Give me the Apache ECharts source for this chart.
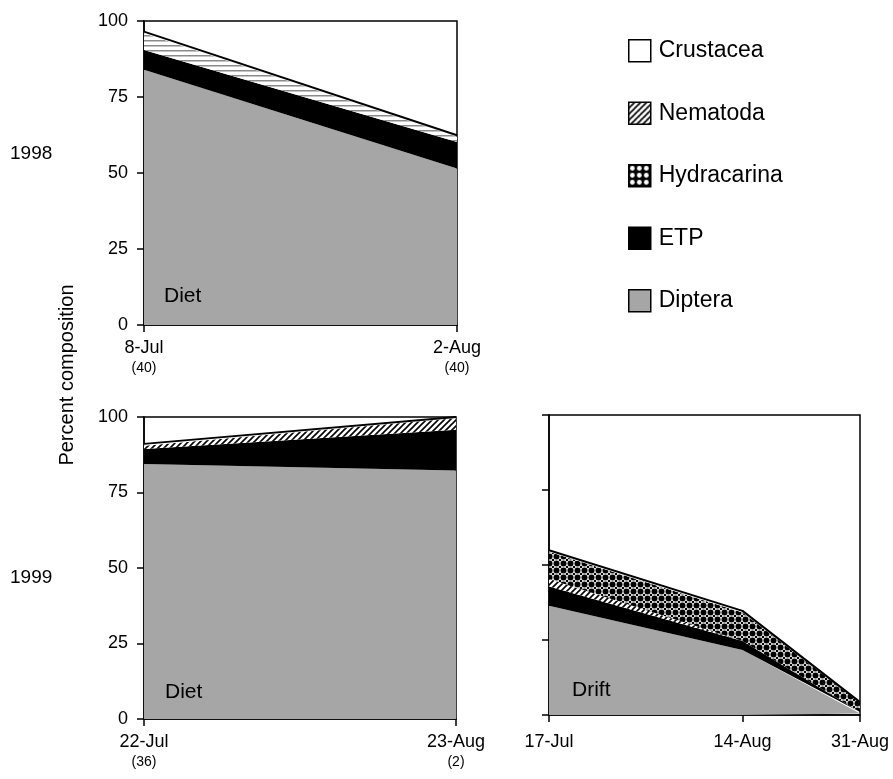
<!DOCTYPE html>
<html>
<head>
<meta charset="utf-8">
<script src="https://cdn.jsdelivr.net/npm/echarts@6/dist/echarts.min.js"></script>
<style>
html, body { margin: 0; padding: 0; background: #fff; }
#main { width: 893px; height: 779px; }
</style>
</head>
<body>
<div id="main"></div>
<script>
var myChart = echarts.init(document.getElementById('main'));

// 1998 diet
var dates98 = ['8-Jul', '2-Aug'];
var counts98 = ['(40)', '(40)'];
var diptera98 = [84, 51.5];
var etp98 = [6.5, 8.7];
var nematoda98 = [5.5, 1.7];
var hydracarina98 = [0, 0];
var crustacea98 = [0.5, 0.5];

// 1999 diet
var dates99 = ['22-Jul', '23-Aug'];
var counts99 = ['(36)', '(2)'];
var diptera99 = [84.4, 82.3];
var etp99 = [5, 13.5];
var nematoda99 = [1.1, 3.8];
var hydracarina99 = [0, 0];
var crustacea99 = [0.6, 0.4];

// 1999 drift
var driftDates = ['1999-07-17', '1999-08-14', '1999-08-31'];
var driftLabels = ['17-Jul', '14-Aug', '31-Aug'];
var dipteraDrift = [36.4, 21.7, 0.5];
var etpDrift = [6.4, 3, 0.5];
var nematodaDrift = [2.5, 0, 0];
var hydracarinaDrift = [9.1, 9.5, 3];
var crustaceaDrift = [0.5, 0.5, 0.3];

var taxa = ['Crustacea', 'Nematoda', 'Hydracarina', 'ETP', 'Diptera'];

var FONT = '"Liberation Sans", Arial, sans-serif';

function makeTile(w, h, bg, draw) {
    var c = document.createElement('canvas');
    c.width = w;
    c.height = h;
    var ctx = c.getContext('2d');
    ctx.fillStyle = bg;
    ctx.fillRect(0, 0, w, h);
    draw(ctx);
    return { image: c, repeat: 'repeat' };
}

var hatch = makeTile(6, 6, '#fff', function (ctx) {
    ctx.strokeStyle = '#000';
    ctx.lineWidth = 1.6;
    ctx.beginPath();
    ctx.moveTo(-1, 7); ctx.lineTo(7, -1);
    ctx.moveTo(-4, 4); ctx.lineTo(4, -4);
    ctx.moveTo(2, 10); ctx.lineTo(10, 2);
    ctx.stroke();
});
var hatchFlat = makeTile(6, 5, '#fff', function (ctx) {
    ctx.fillStyle = '#8a8a8a';
    ctx.fillRect(0, 0, 6, 1.5);
});
var dots = makeTile(7, 7, '#fff', function (ctx) {
    ctx.fillStyle = '#000';
    ctx.beginPath();
    ctx.arc(3.5, 3.5, 3, 0, Math.PI * 2);
    ctx.fill();
    [[0, 0], [7, 0], [0, 7], [7, 7]].forEach(function (p) {
        ctx.beginPath();
        ctx.arc(p[0], p[1], 1.3, 0, Math.PI * 2);
        ctx.fill();
    });
});
var dotsKey = makeTile(7, 7, '#000', function (ctx) {
    ctx.fillStyle = '#fff';
    ctx.beginPath();
    ctx.arc(3.5, 3.5, 2.4, 0, Math.PI * 2);
    ctx.fill();
});

var fills = {
    Diptera: '#a6a6a6',
    ETP: '#000',
    Nematoda: hatch,
    Hydracarina: dots,
    Crustacea: '#fff'
};
var keyFills = {
    Diptera: '#a6a6a6',
    ETP: '#000',
    Nematoda: hatch,
    Hydracarina: dotsKey,
    Crustacea: '#fff'
};

var toTime = function (s) {
    var p = s.split('-');
    return Date.UTC(+p[0], +p[1] - 1, +p[2]);
};
var driftTimes = driftDates.map(toTime);
// days since the first drift sample, for the visible tick axis
var driftDays = driftTimes.map(function (t) {
    return (t - driftTimes[0]) / 86400000;
});

function pairs(values) {
    return values.map(function (v, i) { return [driftTimes[i], v]; });
}

function makeSeries(xIdx, yIdx, stackName, d, nematodaFill) {
    var order = [
        ['Diptera', d.diptera],
        ['ETP', d.etp],
        ['Nematoda', d.nematoda],
        ['Hydracarina', d.hydracarina],
        ['Crustacea', d.crustacea]
    ];
    return order.map(function (o) {
        var name = o[0];
        var top = name === 'Crustacea';
        var fill = name === 'Nematoda' && nematodaFill ? nematodaFill : fills[name];
        return {
            name: name,
            type: 'line',
            xAxisIndex: xIdx,
            yAxisIndex: yIdx,
            stack: stackName,
            data: d.timed ? pairs(o[1]) : o[1],
            symbol: 'none',
            lineStyle: top ? { color: '#000', width: 2 } : { width: 0, opacity: 0 },
            itemStyle: { color: name === 'Diptera' ? '#a6a6a6' : '#000' },
            areaStyle: { color: fill, opacity: 1 },
            emphasis: { disabled: true },
            z: 2
        };
    });
}

var catLabel = function (counts, dates) {
    return {
        fontFamily: FONT,
        color: '#000',
        margin: 12,
        formatter: function (v) {
            return '{a|' + v + '}\n{b|' + counts[dates.indexOf(v)] + '}';
        },
        rich: {
            a: { fontSize: 18, lineHeight: 22, fontFamily: FONT, color: '#000' },
            b: { fontSize: 14, lineHeight: 18, fontFamily: FONT, color: '#000' }
        }
    };
};

var axisLine = { show: true, lineStyle: { color: '#000', width: 1.5 } };
var tick = { show: true, length: 7, lineStyle: { color: '#000', width: 1.5 } };

function yAxis(idx, showLabels) {
    return {
        type: 'value',
        gridIndex: idx,
        min: 0,
        max: 100,
        interval: 25,
        axisLine: axisLine,
        axisTick: tick,
        splitLine: { show: false },
        axisLabel: {
            show: showLabels,
            fontSize: 18,
            fontFamily: FONT,
            color: '#000',
            margin: 16
        }
    };
}

var gridBox = { show: true, borderColor: '#000', borderWidth: 1.5, containLabel: false };

option = {
    animation: false,
    backgroundColor: '#fff',
    grid: [
        Object.assign({ left: 144, top: 21, width: 313, height: 304 }, gridBox),
        Object.assign({ left: 144, top: 417, width: 312, height: 302 }, gridBox),
        Object.assign({ left: 549, top: 415, width: 311, height: 300 }, gridBox)
    ],
    xAxis: [
        {
            type: 'category', gridIndex: 0, data: dates98, boundaryGap: false,
            axisLine: axisLine, axisTick: tick, axisLabel: catLabel(counts98, dates98)
        },
        {
            type: 'category', gridIndex: 1, data: dates99, boundaryGap: false,
            axisLine: axisLine, axisTick: tick, axisLabel: catLabel(counts99, dates99)
        },
        {
            // visible axis: ticks and labels at the sampling dates
            type: 'value', gridIndex: 2,
            min: driftDays[0], max: driftDays[driftDays.length - 1],
            axisLine: axisLine,
            axisTick: { show: true, length: 7, lineStyle: { color: '#000', width: 1.5 }, customValues: driftDays },
            splitLine: { show: false },
            axisLabel: {
                customValues: driftDays,
                fontSize: 18,
                fontFamily: FONT,
                color: '#000',
                margin: 18,
                formatter: function (v) {
                    return driftLabels[driftDays.indexOf(v)];
                }
            }
        },
        {
            // hidden time axis spanning the same dates, carries the stacked drift areas
            type: 'time', gridIndex: 2, show: false,
            min: driftTimes[0], max: driftTimes[driftTimes.length - 1]
        }
    ],
    yAxis: [yAxis(0, true), yAxis(1, true), yAxis(2, false)],
    legend: {
        orient: 'vertical',
        left: 623,
        top: 34,
        itemWidth: 22,
        itemHeight: 22,
        itemGap: 39,
        selectedMode: false,
        textStyle: { fontSize: 23, fontFamily: FONT, color: '#000', lineHeight: 22, padding: [0, 0, 0, 3] },
        data: taxa.map(function (t) {
            return {
                name: t,
                icon: 'rect',
                itemStyle: { color: keyFills[t], borderColor: '#000', borderWidth: 1.5 }
            };
        })
    },
    graphic: [
        { type: 'text', x: 10, y: 154, style: { text: '1998', font: '19px ' + FONT, fill: '#000', verticalAlign: 'middle' } },
        { type: 'text', x: 10, y: 578, style: { text: '1999', font: '19px ' + FONT, fill: '#000', verticalAlign: 'middle' } },
        { type: 'text', x: 67, y: 375, rotation: Math.PI / 2, style: { text: 'Percent composition', font: '20px ' + FONT, fill: '#000', align: 'center', verticalAlign: 'middle' } },
        { type: 'text', x: 164, y: 296, z: 10, style: { text: 'Diet', font: '21px ' + FONT, fill: '#000', verticalAlign: 'middle' } },
        { type: 'text', x: 165, y: 692, z: 10, style: { text: 'Diet', font: '21px ' + FONT, fill: '#000', verticalAlign: 'middle' } },
        { type: 'text', x: 572, y: 690, z: 10, style: { text: 'Drift', font: '21px ' + FONT, fill: '#000', verticalAlign: 'middle' } }
    ],
    series: [].concat(
        makeSeries(0, 0, 'diet98', {
            diptera: diptera98, etp: etp98, nematoda: nematoda98,
            hydracarina: hydracarina98, crustacea: crustacea98
        }, hatchFlat),
        makeSeries(1, 1, 'diet99', {
            diptera: diptera99, etp: etp99, nematoda: nematoda99,
            hydracarina: hydracarina99, crustacea: crustacea99
        }),
        makeSeries(3, 2, 'drift99', {
            timed: true,
            diptera: dipteraDrift, etp: etpDrift, nematoda: nematodaDrift,
            hydracarina: hydracarinaDrift, crustacea: crustaceaDrift
        })
    )
};

myChart.setOption(option);
</script>
</body>
</html>
